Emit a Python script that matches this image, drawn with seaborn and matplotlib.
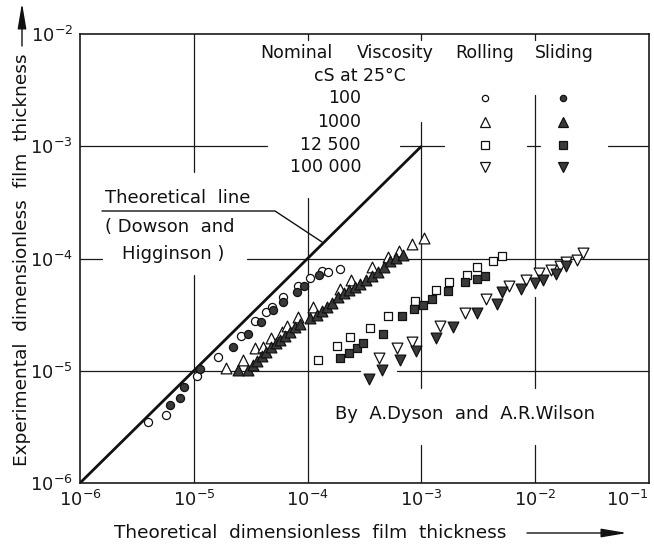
import numpy as np
import pandas as pd
import matplotlib
matplotlib.use("Agg")
import matplotlib.pyplot as plt
from matplotlib.lines import Line2D
import seaborn as sns

# ---------------- data ----------------
viscosity_labels = ["100", "1000", "12 500", "100 000"]

r100_x = [3.98e-6, 5.70e-6, 1.06e-5, 1.63e-5, 2.58e-5, 3.43e-5, 4.34e-5, 4.84e-5,
          6.04e-5, 8.28e-5, 1.05e-4, 1.33e-4, 1.50e-4, 1.93e-4]
r100_y = [3.52e-6, 4.03e-6, 8.97e-6, 1.33e-5, 2.06e-5, 2.75e-5, 3.37e-5, 3.67e-5,
          4.51e-5, 5.73e-5, 6.67e-5, 7.74e-5, 7.62e-5, 8.02e-5]
s100_x = [6.18e-6, 7.57e-6, 8.26e-6, 1.13e-5, 2.22e-5, 2.98e-5, 3.90e-5, 5.00e-5,
          6.04e-5, 8.02e-5, 9.35e-5, 1.27e-4]
s100_y = [4.95e-6, 5.75e-6, 7.13e-6, 1.03e-5, 1.62e-5, 2.12e-5, 2.70e-5, 3.47e-5,
          4.12e-5, 5.06e-5, 5.69e-5, 7.13e-5]

r1000_x = [1.93e-5, 2.72e-5, 3.45e-5, 4.08e-5, 4.76e-5, 5.91e-5, 6.65e-5, 8.28e-5,
           1.12e-4, 1.93e-4, 2.42e-4, 3.66e-4, 5.12e-4, 6.32e-4, 8.22e-4, 1.05e-3]
r1000_y = [1.05e-5, 1.25e-5, 1.58e-5, 1.64e-5, 1.95e-5, 2.23e-5, 2.51e-5, 3.00e-5,
           3.67e-5, 5.35e-5, 6.43e-5, 8.39e-5, 1.04e-4, 1.17e-4, 1.34e-4, 1.51e-4]
s1000_x = [2.44e-5, 2.99e-5, 3.31e-5, 3.59e-5, 3.97e-5, 4.31e-5, 4.76e-5, 5.27e-5,
           5.71e-5, 6.32e-5, 7.00e-5, 7.74e-5, 8.57e-5, 1.05e-4, 1.21e-4, 1.34e-4,
           1.48e-4, 1.64e-4, 1.85e-4, 2.09e-4, 2.31e-4, 2.61e-4, 2.88e-4, 3.26e-4,
           3.68e-4, 4.16e-4, 4.69e-4, 5.30e-4, 5.98e-4, 6.89e-4]
s1000_y = [1.02e-5, 1.02e-5, 1.12e-5, 1.21e-5, 1.35e-5, 1.47e-5, 1.63e-5, 1.77e-5,
           1.88e-5, 2.04e-5, 2.21e-5, 2.45e-5, 2.61e-5, 2.95e-5, 3.14e-5, 3.40e-5,
           3.70e-5, 4.02e-5, 4.50e-5, 4.93e-5, 5.24e-5, 5.57e-5, 5.93e-5, 6.43e-5,
           6.98e-5, 7.59e-5, 8.39e-5, 9.51e-5, 1.02e-4, 1.07e-4]

r12500_x = [1.23e-4, 1.82e-4, 2.36e-4, 3.56e-4, 5.06e-4, 8.79e-4, 1.34e-3, 1.75e-3,
            2.50e-3, 3.06e-3, 4.28e-3, 5.08e-3]
r12500_y = [1.25e-5, 1.66e-5, 2.01e-5, 2.41e-5, 3.05e-5, 4.21e-5, 5.24e-5, 6.21e-5,
            7.13e-5, 8.35e-5, 9.51e-5, 1.05e-4]
s12500_x = [1.93e-4, 2.32e-4, 2.70e-4, 3.08e-4, 4.60e-4, 6.76e-4, 8.69e-4, 1.04e-3,
            1.25e-3, 1.72e-3, 2.42e-3, 3.06e-3, 3.62e-3]
s12500_y = [1.29e-5, 1.45e-5, 1.58e-5, 1.76e-5, 2.12e-5, 3.05e-5, 3.55e-5, 3.85e-5,
            4.33e-5, 5.13e-5, 6.21e-5, 6.56e-5, 7.03e-5]

r100000_x = [4.24e-4, 6.07e-4, 8.22e-4, 1.46e-3, 2.42e-3, 3.73e-3, 5.92e-3, 8.30e-3,
             1.08e-2, 1.38e-2, 1.65e-2, 1.87e-2, 2.32e-2, 2.65e-2]
r100000_y = [1.31e-5, 1.58e-5, 1.82e-5, 2.48e-5, 3.29e-5, 4.33e-5, 5.73e-5, 6.50e-5,
             7.46e-5, 7.82e-5, 8.49e-5, 9.31e-5, 9.71e-5, 1.12e-4]
s100000_x = [3.43e-4, 4.48e-4, 6.49e-4, 8.97e-4, 1.34e-3, 1.91e-3, 3.10e-3, 4.59e-3,
             5.16e-3, 7.50e-3, 1.00e-2, 1.17e-2, 1.51e-2, 1.87e-2]
s100000_y = [8.45e-6, 1.02e-5, 1.25e-5, 1.51e-5, 1.95e-5, 2.44e-5, 3.30e-5, 3.94e-5,
             5.04e-5, 5.32e-5, 6.05e-5, 6.50e-5, 7.28e-5, 8.49e-5]

theory_x = [1e-6, 1e-3]
theory_y = [1e-6, 1e-3]

xticks = [1e-6, 1e-5, 1e-4, 1e-3, 1e-2, 1e-1]
yticks = [1e-6, 1e-5, 1e-4, 1e-3, 1e-2]

# ---------------- style ----------------
sns.set_theme(style="white")
plt.rcParams['font.family'] = ['DejaVu Sans']
plt.rcParams['mathtext.fontset'] = 'dejavusans'

W, H = 654, 548
fig = plt.figure(figsize=(W / 100, H / 100), dpi=100)
ax = fig.add_axes([80 / W, 1 - 483 / H, 569 / W, 449 / H])
ax.set_xscale('log')
ax.set_yscale('log')
ax.set_xlim(1e-6, 1e-1)
ax.set_ylim(1e-6, 1e-2)
ax.set_xticks(xticks)
ax.set_yticks(yticks)
ax.minorticks_off()
ax.tick_params(length=0, labelsize=13, colors='#1a1a1a', pad=5)
for sp in ax.spines.values():
    sp.set_color('#1a1a1a')
    sp.set_linewidth(1.2)

def F(px, py):
    return (px / W, 1 - py / H)

# broken grid lines (exponents of ten)
gk = dict(color='#1a1a1a', lw=0.9, zorder=1)
vsegs = {-5: [(-6, -4.147), (-3.229, -2)],
         -4: [(-2.053, -2), (-3.461, -6)],
         -3: [(-2.053, -2), (-2.784, -5.154), (-5.661, -6)],
         -2: [(-2.053, -2), (-2.543, -4.085), (-4.343, -5.154), (-5.661, -6)]}
hsegs = {-3: [(-6, -4.357), (-3.188, -2.801), (-2.072, -1.958), (-1.360, -1)],
         -4: [(-6, -5.807), (-4.533, -1)],
         -5: [(-6, -3.540), (-3.214, -1)]}
for xe, segs in vsegs.items():
    for a, b in segs:
        ax.plot([10.0 ** xe] * 2, [10.0 ** a, 10.0 ** b], **gk)
for ye, segs in hsegs.items():
    for a, b in segs:
        ax.plot([10.0 ** a, 10.0 ** b], [10.0 ** ye] * 2, **gk)

# theoretical line
ax.plot(theory_x, theory_y, color='#111111', lw=2.0, zorder=2, solid_capstyle='butt')

FILL = '#3a3a3a'
series = [
    (r100_x, r100_y, 'o', 34, 'white'),
    (s100_x, s100_y, 'o', 34, FILL),
    (r1000_x, r1000_y, '^', 60, 'white'),
    (s1000_x, s1000_y, '^', 60, FILL),
    (r12500_x, r12500_y, 's', 38, 'white'),
    (s12500_x, s12500_y, 's', 38, FILL),
    (r100000_x, r100000_y, 'v', 60, 'white'),
    (s100000_x, s100000_y, 'v', 60, FILL),
]
for xs, ys, m, s, fc in series:
    sns.scatterplot(x=xs, y=ys, marker=m, s=s, color=fc, edgecolor='#111111',
                    linewidth=0.9, ax=ax, zorder=3, legend=False)
ax.set_xlabel('')
ax.set_ylabel('')

# keep the last x tick label inside the figure
xl = ax.get_xticklabels()
fig.canvas.draw()
xl = ax.get_xticklabels()
xl[-1].set_horizontalalignment('right')

# ---------------- legend block ----------------
tk = dict(fontsize=12.5, color='#111111', transform=fig.transFigure)
fig.text(*F(260, 53), 'Nominal', ha='left', va='center', **tk)
fig.text(*F(357, 53), 'Viscosity', ha='left', va='center', **tk)
fig.text(*F(485, 53), 'Rolling', ha='center', va='center', **tk)
fig.text(*F(564, 53), 'Sliding', ha='center', va='center', **tk)
fig.text(*F(360, 76), 'cS at 25°C', ha='center', va='center', **tk)
rows_y = [98, 122, 145, 167]
markers = ['o', '^', 's', 'v']
msz = [4.5, 6.5, 5.5, 6.5]
for lab, yy, m, ms in zip(viscosity_labels, rows_y, markers, msz):
    fig.text(*F(361, yy), lab, ha='right', va='center', **tk)
    fig.add_artist(Line2D([485 / W], [1 - yy / H], marker=m, ms=ms, mfc='white',
                          mec='#111111', mew=0.9, ls='none', transform=fig.transFigure))
    fig.add_artist(Line2D([563 / W], [1 - yy / H], marker=m, ms=ms, mfc=FILL,
                          mec='#111111', mew=0.9, ls='none', transform=fig.transFigure))

# theoretical line annotation
ak = dict(fontsize=13, color='#111111', transform=fig.transFigure)
fig.text(*F(105, 198), 'Theoretical  line', ha='left', va='center', **ak)
fig.text(*F(105, 227), '( Dowson  and', ha='left', va='center', **ak)
fig.text(*F(122, 254), 'Higginson )', ha='left', va='center', **ak)
lx = [102, 275, 322]
ly = [211, 211, 242]
fig.add_artist(Line2D([v / W for v in lx], [1 - v / H for v in ly], color='#111111',
                      lw=1.0, transform=fig.transFigure))

fig.text(*F(465, 414), 'By  A.Dyson  and  A.R.Wilson', ha='center', va='center', **ak)

# axis titles with arrows
fig.text(*F(310, 533), 'Theoretical  dimensionless  film  thickness', ha='center',
         va='center', fontsize=13.3, color='#111111')
fig.text(*F(22, 260), 'Experimental  dimensionless  film  thickness', ha='center',
         va='center', rotation=90, fontsize=13.3, color='#111111')
ap = dict(arrowstyle='-|>,head_length=1.3,head_width=0.22', lw=1.0, color='#111111',
          shrinkA=0, shrinkB=0)
ax.annotate('', xy=F(627, 533), xytext=F(527, 533), xycoords='figure fraction',
            textcoords='figure fraction', arrowprops=ap)
ax.annotate('', xy=F(22, 3), xytext=F(22, 46), xycoords='figure fraction',
            textcoords='figure fraction', arrowprops=ap)

fig.savefig('out.png', dpi=100)
